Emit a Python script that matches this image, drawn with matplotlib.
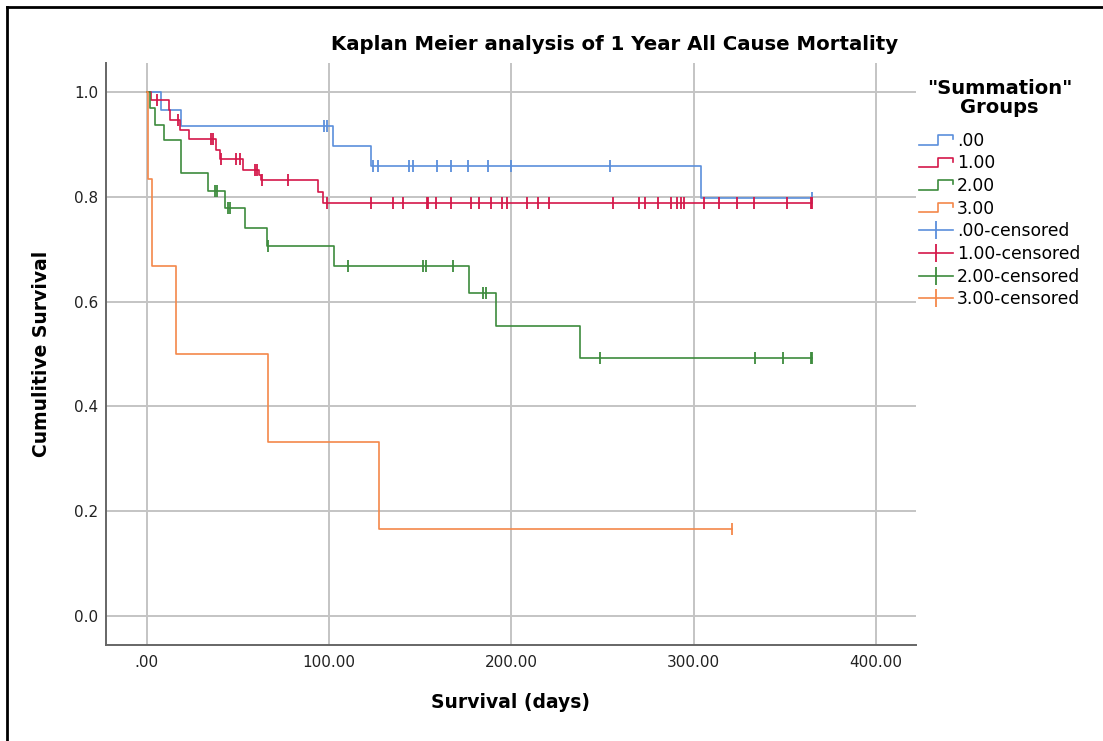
import numpy as np
import matplotlib
matplotlib.use('Agg')
import matplotlib.pyplot as plt
from matplotlib.lines import Line2D
from matplotlib.legend_handler import HandlerBase

plt.rcParams['font.family'] = ['DejaVu Sans']

groups = ['.00', '1.00', '2.00', '3.00']
colors = ['#5b8fdb', '#d4184a', '#3d8b3d', '#f4884a']

# event times (days) and survival after each step
times0 = [0, 8, 19, 102, 123, 304]
surv0 = [1.0, 0.966, 0.934, 0.897, 0.859, 0.797]
cens0 = [97, 99, 124, 127, 144, 146, 159, 167, 176, 187, 200, 254, 365]

times1 = [0, 2.5, 12, 13, 18, 23, 38, 40, 53, 61.5, 62.5, 94, 96.5]
surv1 = [1.0, 0.984, 0.966, 0.947, 0.928, 0.910, 0.890, 0.871, 0.851,
         0.841, 0.831, 0.809, 0.788]
cens1 = [5.5, 17, 35, 36.5, 40.5, 49, 51, 59.5, 60.5, 63, 77.5, 98.7, 122.8,
         134.9, 140.7, 153.5, 154.4, 158.6, 166.7, 177.6, 182.3, 188.6, 194.6,
         197.4, 208.7, 214.7, 220.7, 255.8, 270, 273, 280.4, 287.5, 290.5,
         292.7, 294.6, 305.5, 313.9, 323.8, 333, 350.9, 364, 365]

times2 = [0, 1.8, 4.6, 9.7, 18.8, 33.8, 42.9, 53.9, 65.8, 102.5, 176.7, 191.5, 237.5]
surv2 = [1.0, 0.970, 0.937, 0.908, 0.845, 0.811, 0.779, 0.741, 0.706, 0.667,
         0.616, 0.553, 0.492]
cens2 = [37.4, 38.7, 44.7, 45.7, 66.7, 110.5, 151.3, 153.1, 167.8, 184.5, 186,
         248.5, 333.5, 348.8, 364, 365]

times3 = [0, 1, 2.7, 16, 66.7, 127.5]
surv3 = [1.0, 0.833, 0.667, 0.5, 0.333, 0.167]
cens3 = [321]

all_times = [times0, times1, times2, times3]
all_surv = [surv0, surv1, surv2, surv3]
all_cens = [cens0, cens1, cens2, cens3]

xticks = [0, 100, 200, 300, 400]
xticklabels = ['.00', '100.00', '200.00', '300.00', '400.00']
yticks = [0.0, 0.2, 0.4, 0.6, 0.8, 1.0]
yticklabels = ['0.0', '0.2', '0.4', '0.6', '0.8', '1.0']


class StepHandler(HandlerBase):
    def create_artists(self, legend, orig_handle, xdescent, ydescent,
                       width, height, fontsize, trans):
        x0 = -xdescent
        y0 = -ydescent
        xs = [x0, x0 + 0.55 * width, x0 + 0.55 * width, x0 + width, x0 + width]
        ys = [y0 + 0.1 * height, y0 + 0.1 * height, y0 + 0.9 * height,
              y0 + 0.9 * height, y0 + 0.55 * height]
        ln = Line2D(xs, ys, color=orig_handle.get_color(), lw=1.2)
        ln.set_transform(trans)
        return [ln]


fig = plt.figure(figsize=(11.03, 7.41), dpi=100)
ax = fig.add_axes([106 / 1103, 1 - 645 / 741, (916 - 106) / 1103, (645 - 63) / 741])

step_handles = []
cens_handles = []
for t, s, c, col, g in zip(all_times, all_surv, all_cens, colors, groups):
    t = np.array(t, dtype=float)
    s = np.array(s, dtype=float)
    end = max(c)
    xs = np.append(t, end)
    ys = np.append(s, s[-1])
    h, = ax.step(xs, ys, where='post', color=col, lw=1.2, zorder=3)
    step_handles.append(h)
    idx = np.searchsorted(t, np.array(c), side='right') - 1
    cy = s[idx]
    ax.plot(c, cy, linestyle='none', marker='|', markersize=9, mew=1.3,
            color=col, zorder=4)
    cens_handles.append(Line2D([], [], color=col, lw=1.2, marker='|',
                               markersize=13, mew=1.3))

ax.set_xlim(-22.3, 421.8)
ax.set_ylim(-0.055, 1.055)
ax.set_xticks(xticks)
ax.set_xticklabels(xticklabels)
ax.set_yticks(yticks)
ax.set_yticklabels(yticklabels)
ax.tick_params(length=0, labelsize=11, colors='#222222')
ax.tick_params(axis='y', pad=5.5)
ax.tick_params(axis='x', pad=7)
ax.grid(True, color='#c4c4c4', lw=1.4)
ax.set_axisbelow(True)
for sp in ['top', 'right']:
    ax.spines[sp].set_visible(False)
for sp in ['left', 'bottom']:
    ax.spines[sp].set_color('#666666')
    ax.spines[sp].set_linewidth(1.4)

ax.set_xlabel('Survival (days)', fontsize=13.5, fontweight='bold', labelpad=17)
ax.set_ylabel('Cumulitive Survival', fontsize=13.5, fontweight='bold', labelpad=17)
fig.text(615 / 1103, 1 - 45 / 741, 'Kaplan Meier analysis of 1 Year All Cause Mortality',
         ha='center', va='center', fontsize=14.2, fontweight='bold')

handler_map = {h: StepHandler() for h in step_handles}
leg = ax.legend(step_handles + cens_handles,
                groups + [g + '-censored' for g in groups],
                loc='upper left', bbox_to_anchor=(0.995, 0.985), borderaxespad=0,
                frameon=False, handler_map=handler_map, fontsize=12.3,
                handlelength=2.0, handletextpad=0.25, labelspacing=0.27,
                title='"Summation"\nGroups',
                title_fontproperties={'weight': 'bold', 'size': 14})
leg.get_title().set_multialignment('center')
leg.get_title().set_linespacing(1.0)
leg._legend_box.sep = 11

# outer frame (top and left edges)
fig.add_artist(Line2D([7 / 1103, 1], [1 - 7 / 741, 1 - 7 / 741], color='black', lw=2,
                      transform=fig.transFigure))
fig.add_artist(Line2D([7 / 1103, 7 / 1103], [0, 1 - 7 / 741], color='black', lw=2,
                      transform=fig.transFigure))

fig.savefig('out.png', dpi=100)
